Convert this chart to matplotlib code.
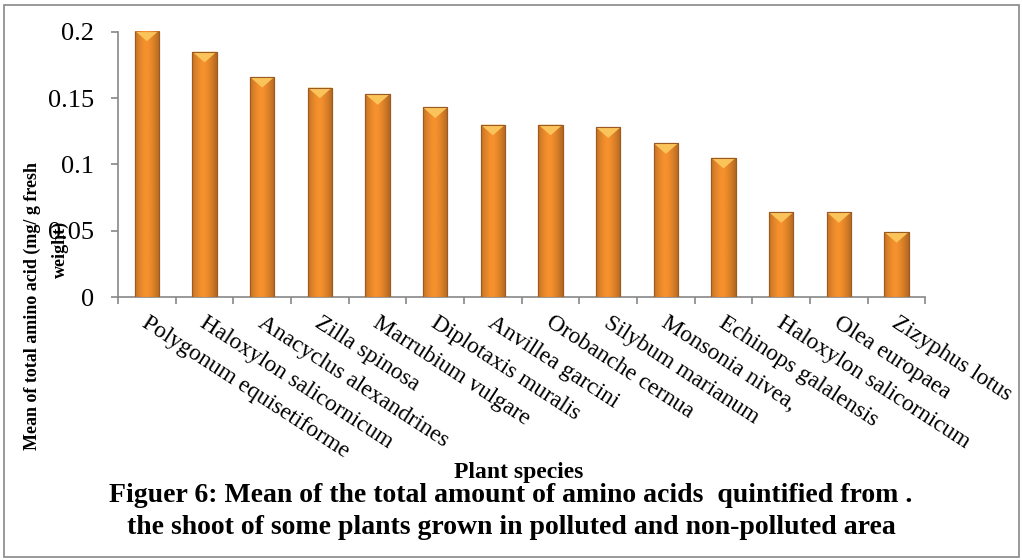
import numpy as np
import matplotlib.pyplot as plt
from matplotlib.patches import Rectangle, Polygon

plt.rcParams['font.family'] = ['Liberation Serif', 'DejaVu Serif']

species = ['Polygonum equisetiforme', 'Haloxylon salicornicum', 'Anacyclus alexandrines',
           'Zilla spinosa', 'Marrubium vulgare', 'Diplotaxis muralis', 'Anvillea garcini',
           'Orobanche cernua', 'Silybum marianum', 'Monsonia nivea,', 'Echinops galalensis',
           'Haloxylon salicornicum', 'Olea europaea', 'Zizyphus lotus']
amino = [0.201, 0.185, 0.166, 0.158, 0.153, 0.143, 0.130,
         0.130, 0.128, 0.116, 0.105, 0.064, 0.064, 0.049]

fig = plt.figure(figsize=(10.22, 5.6), dpi=100)
ax = fig.add_axes([0.1155, 0.4696, 0.79, 0.4734])

x = np.arange(len(species))
bars = ax.bar(x, amino, width=0.42, color='#F7922E', edgecolor='#9A5A22', linewidth=0.8, zorder=2)

# horizontal shading like the 3D-ish Excel bars
grad = np.linspace(0, 1, 64)
shade = 1 - 0.35 * np.abs(grad - 0.45) ** 1.5 * 2
cols = np.array([0.97, 0.57, 0.18])
img = (cols[None, :] * shade[:, None])[None, :, :]
for b in bars:
    bx, bw, bh = b.get_x(), b.get_width(), b.get_height()
    im = ax.imshow(img, extent=[bx, bx + bw, 0, bh], aspect='auto', zorder=3, interpolation='bicubic')
    im.set_clip_path(b)
    # light bevel at the top
    tri = Polygon([[bx, bh], [bx + bw, bh], [bx + bw / 2, bh - 0.008]], closed=True,
                  facecolor='#FBC45A', edgecolor='none', zorder=4)
    ax.add_patch(tri)
    ax.add_patch(Rectangle((bx, 0), bw, bh, fill=False, edgecolor='#9A5A22', linewidth=0.8, zorder=5))

ax.set_xlim(-0.5, len(species) - 0.5)
ax.set_ylim(0, 0.2)
ax.set_yticks([0, 0.05, 0.1, 0.15, 0.2])
ax.set_yticklabels(['0', '0.05', '0.1', '0.15', '0.2'], fontsize=19)
ax.set_xticks(np.arange(len(species) + 1) - 0.5)
ax.set_xticklabels([])
ax.tick_params(axis='both', color='#888888', length=5, width=1.2)
ax.tick_params(axis='y', pad=12)
for s in ['top', 'right']:
    ax.spines[s].set_visible(False)
for s in ['left', 'bottom']:
    ax.spines[s].set_color('#888888')
    ax.spines[s].set_linewidth(1.2)

for i, name in enumerate(species):
    ax.text(i - 0.05, -0.018, name, rotation=-33, rotation_mode='anchor', ha='left', va='center',
            fontsize=16.8, transform=ax.transData, clip_on=False)

fig.text(0.032, 0.454, 'Mean of total amino acid (mg/ g fresh', rotation=90, fontsize=13,
         fontweight='bold', ha='center', va='center')
fig.text(0.059, 0.554, 'weight)', rotation=90, fontsize=13,
         fontweight='bold', ha='center', va='center')

fig.text(0.508, 0.157, 'Plant species', fontsize=17, fontweight='bold', ha='center', va='center')
fig.text(0.500, 0.115, 'Figuer 6: Mean of the total amount of amino acids  quintified from .',
         fontsize=20, fontweight='bold', ha='center', va='center')
fig.text(0.500, 0.058, 'the shoot of some plants grown in polluted and non-polluted area',
         fontsize=20, fontweight='bold', ha='center', va='center')

fig.patches.append(Rectangle((0.004, 0.006), 0.993, 0.985, transform=fig.transFigure,
                             fill=False, edgecolor='#888888', linewidth=1.2))

fig.savefig('out.png', dpi=100)
